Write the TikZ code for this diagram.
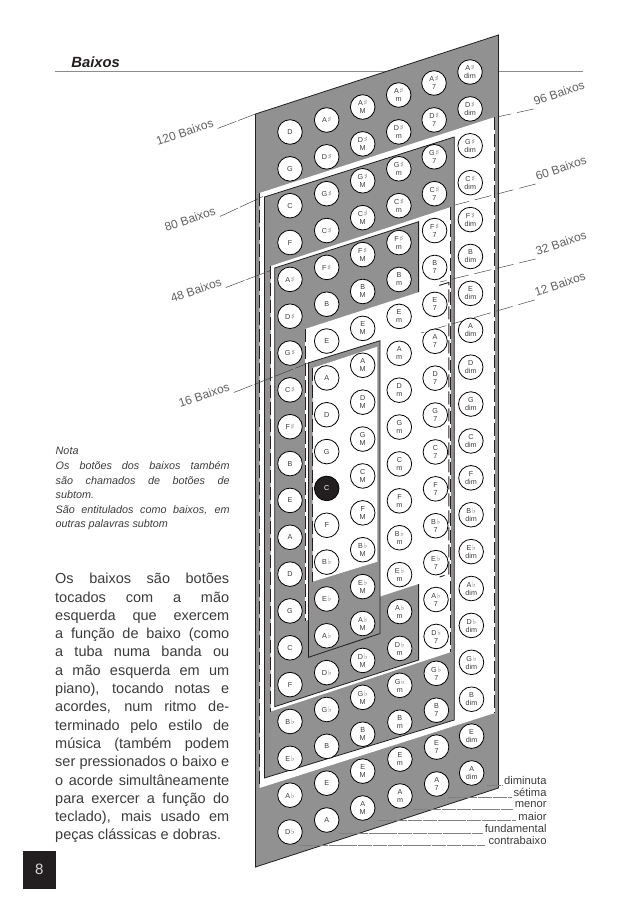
\documentclass[tikz,border=0pt]{standalone}
\usepackage{fontspec}
\setmainfont{Liberation Sans}
\newfontfamily\symf{DejaVu Sans}
\definecolor{panel}{HTML}{919191}
\definecolor{inkd}{HTML}{231F20}
\definecolor{txt}{HTML}{3C3C3C}
\definecolor{symg}{HTML}{7A7A7A}
\newcommand{\Sh}{\kern.8pt{\symf\color{symg}\fontsize{7.8}{8}\selectfont ♯}}
\newcommand{\Fl}{\kern.8pt{\symf\color{symg}\fontsize{7.8}{8}\selectfont ♭}}
\newcommand{\notesA}{D,G,C,F,A\Sh,D\Sh,G\Sh,C\Sh,F\Sh,B,E,A,D,G,C,F,B\Fl,E\Fl,A\Fl,D\Fl}
\newcommand{\notesB}{A\Sh,D\Sh,G\Sh,C\Sh,F\Sh,B,E,A,D,G,C,F,B\Fl,E\Fl,A\Fl,D\Fl,G\Fl,B,E,A}
\newcommand{\btncolumn}[7]{%
  \foreach \nm [count=\i from 0] in #7 {%
    \pgfmathsetmacro{\xx}{#2+(#3-#2)*\i/19}%
    \pgfmathsetmacro{\yy}{#4+(#5-#4)*\i/19}%
    \node[btn,c#1r\i/.try] (c#1r\i) at (\xx,\yy) {\nm#6};
  }%
}
\tikzset{
  btn/.style={circle,draw=black,line width=.8pt,fill=white,minimum size=24.6pt,inner sep=0pt,
    align=center,text=txt,font=\fontsize{7.2}{8}\selectfont},
  c2r10/.style={fill=inkd,text=white},
  panelbox/.style={fill=panel,draw=inkd,line width=.8pt},
  gapbox/.style={fill=white,draw=none},
  dashside/.style={draw=inkd,line width=.9pt,dash pattern=on 13pt off 4pt},
  leftlead/.style={draw=txt,line width=.45pt,dash pattern=on 20pt off 2pt},
  rightlead/.style={draw=txt,line width=.45pt,dash pattern=on 17pt off 6pt},
  legendlead/.style={draw=black!50,line width=.6pt,dash pattern=on 14pt off .8pt},
  count/.style={rotate=18.5,text=black!62,inner sep=2.5pt,font=\fontsize{12}{14}\selectfont},
  legend/.style={anchor=east,inner sep=0pt,text=txt,font=\fontsize{11.2}{13}\selectfont}
}
\begin{document}
\begin{tikzpicture}[x=1pt,y=-1pt]
\path[use as bounding box,fill=white] (0,0) rectangle (638,906);
% header
\node[inner sep=0pt,text=inkd,font=\fontsize{14.8}{17}\selectfont\bfseries\itshape] (title) at (95.7,62) {Baixos};
\coordinate (ruleL) at (55,71.8);
\coordinate (ruleR) at (583,71.8);
\draw[draw=black!45,line width=1.3pt] (ruleL) -- (ruleR);
% nested panels
\draw[panelbox] (255.5,114) -- (498.4,35) -- (498.4,788) -- (255.5,867) -- cycle;
\fill[gapbox] (259.5,193) -- (494.8,117) -- (494.8,713) -- (259.5,788) -- cycle;
\draw[dashside] (259.8,193) -- (259.8,788);
\draw[dashside] (494.8,117) -- (494.8,713);
\draw[panelbox] (264.4,197) -- (454.3,137) -- (454.3,720) -- (264.4,778) -- cycle;
\fill[gapbox] (270.7,266) -- (450.9,207) -- (450.9,652) -- (270.7,711.5) -- cycle;
\draw[dashside] (270.9,266) -- (270.9,711.5);
\draw[dashside] (450.9,207) -- (450.9,652);
\draw[panelbox] (274.7,268) -- (418.6,221.7) -- (418.6,660) -- (274.7,706.7) -- cycle;
\fill[gapbox] (305,329) -- (449,282.4) -- (449,574) -- (305,621) -- cycle;
\draw[dashside] (305.4,329) -- (305.4,621);
\draw[dashside] (439.3,285.4) -- (448.8,282.4) -- (448.8,574) -- (439.6,577);
\draw[panelbox] (308.5,362.8) -- (380,340.7) -- (380,633.5) -- (308.5,657.3) -- cycle;
\fill[gapbox] (312.5,368) -- (377.4,346.7) -- (377.4,561.7) -- (312.5,581.7) -- cycle;
\draw[dashside] (312.8,368) -- (312.8,581.7);
% count labels and their leaders
\node[count] (n120) at (184.7,132) {120 Baixos};
\node[count] (n80) at (190,219) {80 Baixos};
\node[count] (n48) at (196,290) {48 Baixos};
\node[count] (n16) at (204,395) {16 Baixos};
\node[count] (n96) at (559,93) {96 Baixos};
\node[count] (n60) at (561,168) {60 Baixos};
\node[count] (n32) at (561,243) {32 Baixos};
\node[count] (n12) at (560,284) {12 Baixos};
\coordinate (e120) at (255.5,114);
\coordinate (e80) at (263,196.5);
\coordinate (e48) at (270.5,270.5);
\coordinate (e16) at (308.5,363);
\coordinate (e96) at (498.4,116.7);
\coordinate (e60) at (455,205);
\coordinate (e32) at (440,282);
\coordinate (e12) at (421,333);
\draw[leftlead] (n120.south east) -- (e120);
\draw[leftlead] (n80.south east) -- (e80);
\draw[leftlead] (n48.south east) -- (e48);
\draw[leftlead] (n16.south east) -- (e16);
\draw[rightlead] (n96.south west) -- (e96);
\draw[rightlead] (n60.south west) -- (e60);
\draw[rightlead] (n32.south west) -- (e32);
\draw[rightlead] (n12.south west) -- (e12);
% legend
\node[legend] (ldim) at (546.7,780.7) {diminuta};
\node[legend] (lset) at (546.7,792.7) {sétima};
\node[legend] (lmen) at (546.7,804.7) {menor};
\node[legend] (lmai) at (546.7,816.7) {maior};
\node[legend] (lfun) at (546.7,828.4) {fundamental};
\node[legend] (lcon) at (546.7,840.3) {contrabaixo};
\coordinate (sdim) at (486.7,785);
\coordinate (sset) at (448.3,797);
\coordinate (smen) at (412.3,809);
\coordinate (smai) at (378.3,820.7);
\coordinate (sfun) at (339,833);
\coordinate (scon) at (299,845);
\draw[legendlead] (sdim) -- (501.7,785);
\draw[legendlead] (sset) -- (511.7,797);
\draw[legendlead] (smen) -- (513.3,809);
\draw[legendlead] (smai) -- (515.7,820.7);
\draw[legendlead] (sfun) -- (483.3,833);
\draw[legendlead] (scon) -- (485,845);
% buttons
\btncolumn{1}{290}{290}{132}{832}{}{\notesA}
\btncolumn{2}{326.7}{326.7}{120}{820}{}{\notesB}
\btncolumn{3}{362.7}{362.7}{107}{808}{\\M}{\notesB}
\btncolumn{4}{398.7}{400}{95}{796}{\\m}{\notesB}
\btncolumn{5}{434}{436.7}{83}{784}{\\7}{\notesB}
\btncolumn{6}{470}{471.7}{72}{773}{\\dim}{\notesB}
% note
\node[anchor=north west,inner sep=0pt,text width=174pt,align=justify,text=txt,
  font=\fontsize{10.8}{14.6}\selectfont\itshape] (note) at (55.5,447.2) {%
  Nota\\
  Os botões dos baixos também\linebreak
  são chamados de botões de\linebreak
  subtom.\\
  São entitulados como baixos, em\linebreak
  outras palavras subtom};
% body
\node[anchor=north west,inner sep=0pt,text width=174pt,align=justify,text=txt,
  font=\fontsize{14.5}{18.3}\selectfont] (body) at (55,573) {%
  Os baixos são botões\linebreak
  tocados com a mão\linebreak
  esquerda que exercem\linebreak
  a função de baixo (como\linebreak
  a tuba numa banda ou\linebreak
  a mão esquerda em um\linebreak
  piano), tocando notas e\linebreak
  acordes, num ritmo de-\linebreak
  terminado pelo estilo de\linebreak
  música (também podem\linebreak
  ser pressionados o baixo e\linebreak
  o acorde simultâneamente\linebreak
  para exercer a função do\linebreak
  teclado), mais usado em\linebreak
  peças clássicas e dobras.};
% page number
\node[anchor=north west,fill=inkd,minimum width=33pt,minimum height=37.6pt,inner sep=0pt,
  text=white!85!black,font=\fontsize{15}{17}\selectfont] (page) at (22.7,850.7) {8};
\end{tikzpicture}
\end{document}
